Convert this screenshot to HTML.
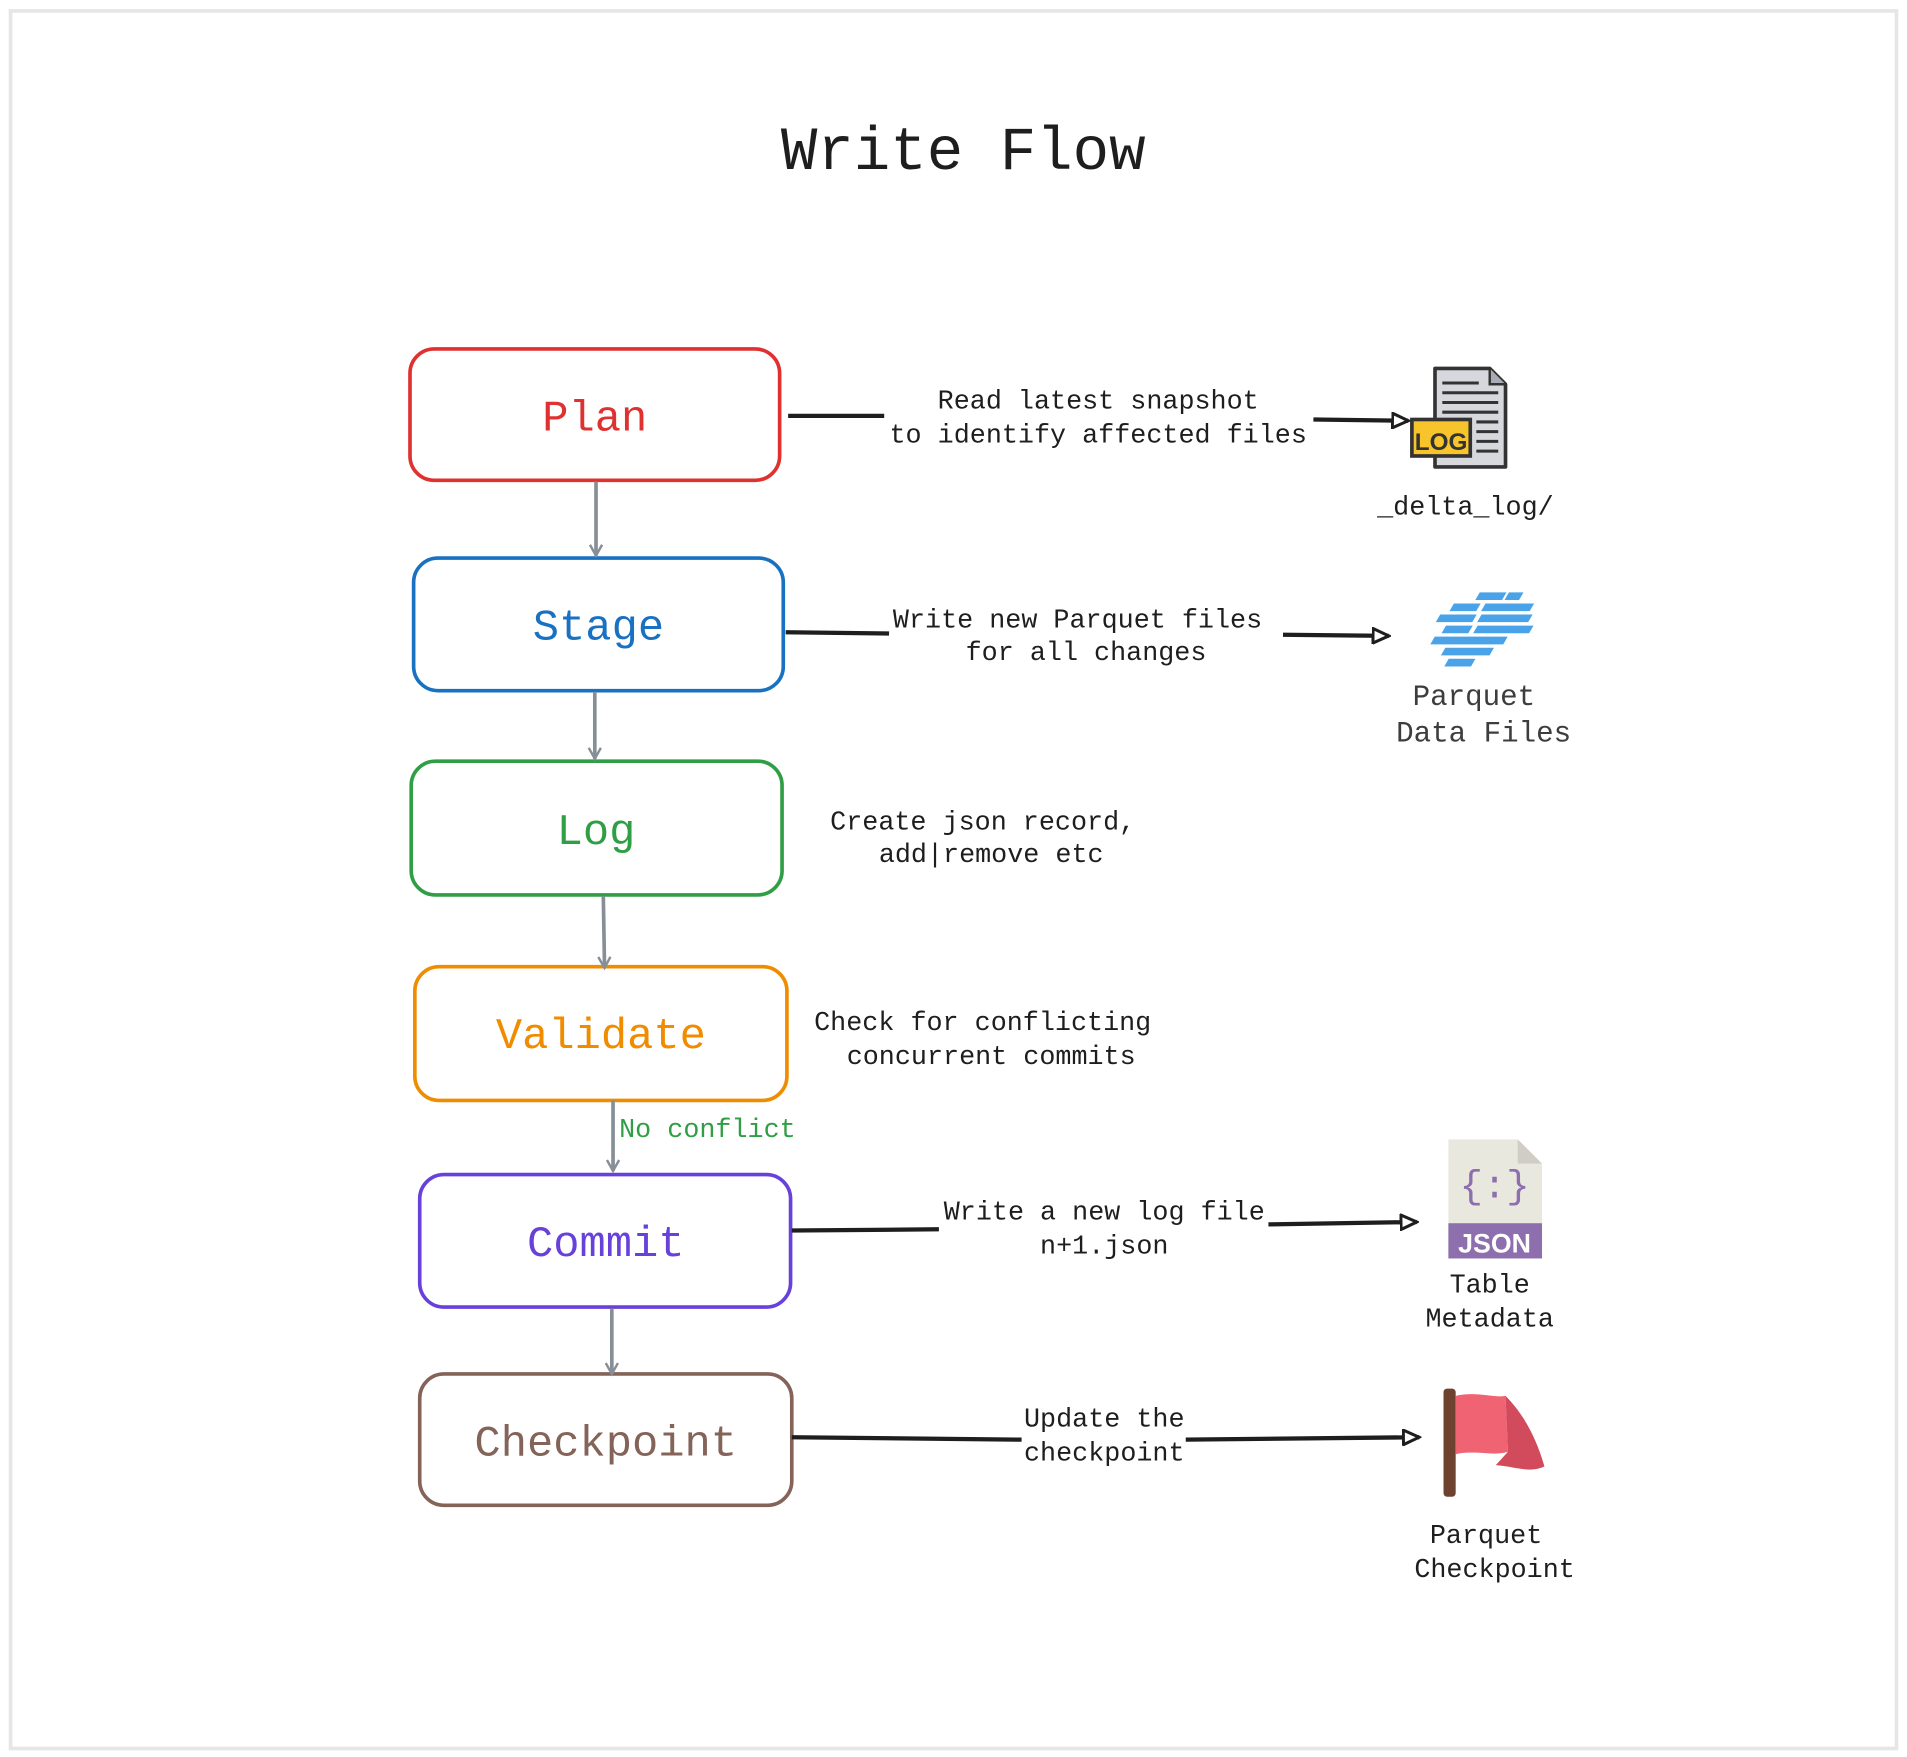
<!DOCTYPE html>
<html><head><meta charset="utf-8"><style>
html,body{margin:0;padding:0;background:#fff;}
svg{display:block;}
text{font-family:"Liberation Mono","DejaVu Sans Mono",monospace;}
</style></head><body>
<svg width="1907" height="1757" viewBox="0 0 1568 1445" xmlns="http://www.w3.org/2000/svg">
<defs>
<marker id="ag" markerWidth="12" markerHeight="12" refX="10" refY="6" orient="auto" markerUnits="userSpaceOnUse"><path d="M1,1 L10,6 L1,11" fill="none" stroke="#868e96" stroke-width="2"/></marker>
<marker id="ab" markerWidth="16" markerHeight="14" refX="14" refY="7" orient="auto" markerUnits="userSpaceOnUse"><path d="M1,1 L14,7 L1,13 Z" fill="#fff" stroke="#1e1e1e" stroke-width="2.5"/></marker>
</defs>
<rect x="8.5" y="9" width="1551" height="1429" fill="#fff" stroke="#e6e6e6" stroke-width="3"/>
<text x="792" y="139" font-size="50" text-anchor="middle" fill="#1e1e1e">Write Flow</text>

<g fill="none" stroke-width="3">
<rect x="337" y="287" width="304" height="108" rx="20" stroke="#e03131"/>
<rect x="340" y="459" width="304" height="109" rx="20" stroke="#1971c2"/>
<rect x="338" y="626" width="305" height="110" rx="20" stroke="#2f9e44"/>
<rect x="341" y="795" width="306" height="110" rx="20" stroke="#f08c00"/>
<rect x="345" y="966" width="305" height="109" rx="20" stroke="#6741d9"/>
<rect x="345" y="1130" width="306" height="108" rx="20" stroke="#846358"/>
</g>
<g font-size="36" text-anchor="middle">
<text x="489" y="354" fill="#e03131">Plan</text>
<text x="492" y="526" fill="#1971c2">Stage</text>
<text x="490" y="694" fill="#2f9e44">Log</text>
<text x="494" y="862" fill="#f08c00">Validate</text>
<text x="498" y="1033" fill="#6741d9">Commit</text>
<text x="498" y="1197" fill="#846358">Checkpoint</text>
</g>

<g stroke="#868e96" stroke-width="3" fill="none">
<line x1="490" y1="396" x2="490" y2="457" marker-end="url(#ag)"/>
<line x1="489" y1="569" x2="489" y2="624" marker-end="url(#ag)"/>
<line x1="496" y1="737" x2="497" y2="796" marker-end="url(#ag)"/>
<line x1="504" y1="905" x2="504" y2="963" marker-end="url(#ag)"/>
<line x1="503" y1="1076" x2="503" y2="1130" marker-end="url(#ag)"/>
</g>
<text x="509" y="935" font-size="22" fill="#2f9e44">No conflict</text>

<g stroke="#1e1e1e" stroke-width="3.5" fill="none">
<line x1="648" y1="342" x2="727" y2="342"/>
<line x1="1080" y1="345" x2="1158" y2="346" marker-end="url(#ab)"/>
<line x1="646" y1="520" x2="731" y2="521"/>
<line x1="1055" y1="522" x2="1142" y2="523" marker-end="url(#ab)"/>
<line x1="651" y1="1012" x2="772" y2="1011"/>
<line x1="1043" y1="1007" x2="1165" y2="1005" marker-end="url(#ab)"/>
<line x1="651" y1="1182" x2="840" y2="1184"/>
<line x1="975" y1="1184" x2="1167" y2="1182" marker-end="url(#ab)"/>
</g>

<g font-size="22" text-anchor="middle" fill="#1e1e1e">
<text x="903" y="336">Read latest snapshot</text>
<text x="903" y="364">to identify affected files</text>
<text x="886" y="516">Write new Parquet files</text>
<text x="893" y="543">for all changes</text>
<text x="808" y="682">Create json record,</text>
<text x="815" y="709">add|remove etc</text>
<text x="808" y="847">Check for conflicting</text>
<text x="815" y="875">concurrent commits</text>
<text x="908" y="1003">Write a new log file</text>
<text x="908" y="1031">n+1.json</text>
<text x="908" y="1173">Update the</text>
<text x="908" y="1201">checkpoint</text>
<text x="1205" y="423">_delta_log/</text>
<text x="1225" y="1063">Table</text>
<text x="1225" y="1091">Metadata</text>
<text x="1222" y="1269">Parquet</text>
<text x="1229" y="1297">Checkpoint</text>
</g>
<g font-size="24" text-anchor="middle" fill="#3d3d3d">
<text x="1212" y="580">Parquet</text>
<text x="1220" y="610">Data Files</text>
</g>

<!-- LOG icon -->
<g>
<path d="M1180,303 H1225 L1238,316 V384 H1180 Z" fill="#d6d8de" stroke="#333" stroke-width="3" stroke-linejoin="round"/>
<path d="M1225,303 V316 H1238" fill="#a9acb5" stroke="#333" stroke-width="2"/>
<g stroke="#333" stroke-width="2.5">
<line x1="1186" y1="315" x2="1216" y2="315"/><line x1="1186" y1="323" x2="1232" y2="323"/>
<line x1="1186" y1="331" x2="1232" y2="331"/><line x1="1186" y1="339" x2="1232" y2="339"/>
<line x1="1214" y1="347" x2="1232" y2="347"/><line x1="1214" y1="355" x2="1232" y2="355"/>
<line x1="1214" y1="363" x2="1232" y2="363"/><line x1="1214" y1="371" x2="1232" y2="371"/>
</g>
<rect x="1161" y="345" width="48" height="30" fill="#f7c52b" stroke="#333" stroke-width="3"/>
<text x="1185" y="370" font-size="20" font-family="Liberation Sans,sans-serif" font-weight="bold" text-anchor="middle" fill="#333" style="font-family:'Liberation Sans',sans-serif">LOG</text>
</g>

<!-- Parquet icon -->
<g fill="#4aa3e8" transform="translate(1217,518) skewX(-30) scale(1,0.7)">
<rect x="-18" y="-44" width="22" height="9"/><rect x="6" y="-44" width="12" height="9"/>
<rect x="-8" y="-31" width="40" height="9"/><rect x="-34" y="-31" width="22" height="9"/>
<rect x="-40" y="-18" width="30" height="9"/><rect x="-6" y="-18" width="42" height="9"/>
<rect x="-30" y="-5" width="22" height="9"/><rect x="-4" y="-5" width="46" height="9"/>
<rect x="-34" y="8" width="60" height="9"/><rect x="-20" y="21" width="40" height="9"/>
<rect x="-12" y="34" width="22" height="9"/>
</g>

<!-- JSON icon -->
<g>
<path d="M1191,937 H1248 L1268,957 V1035 H1191 Z" fill="#e9e8df"/>
<path d="M1248,937 V957 H1268 Z" fill="#cfcdc4"/>
<rect x="1191" y="1006" width="77" height="29" fill="#8e6fae"/>
<text x="1229" y="1030" font-size="22" text-anchor="middle" fill="#fff" style="font-family:'Liberation Sans',sans-serif;font-weight:bold">JSON</text>
<text x="1229" y="985" font-size="32" text-anchor="middle" fill="#8e6fae">{:}</text>
</g>

<!-- Flag -->
<g>
<rect x="1187" y="1142" width="10" height="89" rx="3" fill="#6d4330"/>
<path d="M1197,1148 C1215,1144 1228,1150 1238,1148 L1240,1194 C1228,1198 1212,1192 1197,1196 Z" fill="#ef6373"/>
<path d="M1238,1148 C1250,1160 1262,1178 1270,1206 C1258,1212 1245,1206 1230,1205 L1240,1194 Z" fill="#d24b5c"/>
</g>
</svg>
</body></html>
